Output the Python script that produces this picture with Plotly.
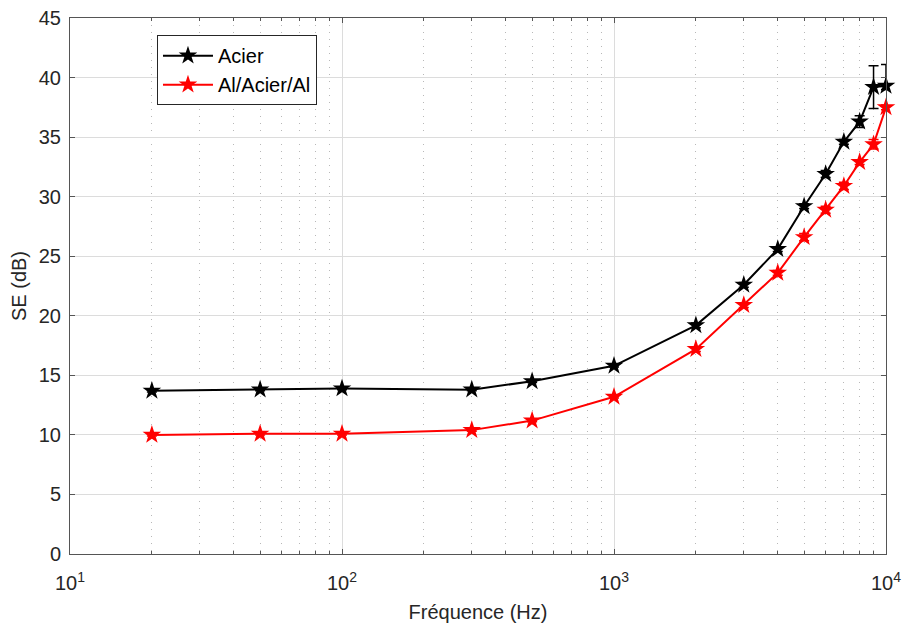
import plotly.graph_objects as go

freq = [20, 50, 100, 300, 500, 1000, 2000, 3000, 4000, 5000, 6000, 7000, 8000, 9000, 10000]
se_acier = [13.7, 13.8, 13.9, 13.8, 14.5, 15.8, 19.2, 22.6, 25.6, 29.2, 31.9, 34.6, 36.3, 39.2, 39.3]
err_acier_plus = [0.1, 0.1, 0.1, 0.1, 0.1, 0.1, 0.2, 0.2, 0.2, 0.2, 0.3, 0.2, 0.5, 1.8, 1.8]
err_acier_minus = [0.1, 0.1, 0.1, 0.1, 0.1, 0.1, 0.2, 0.2, 0.2, 0.2, 0.3, 0.2, 0.5, 1.8, 0.3]
se_al = [10.0, 10.1, 10.1, 10.4, 11.2, 13.2, 17.2, 20.9, 23.6, 26.6, 28.9, 30.9, 32.9, 34.4, 37.5]
err_al = [0.1, 0.1, 0.1, 0.1, 0.1, 0.1, 0.2, 0.2, 0.2, 0.3, 0.3, 0.3, 0.2, 0.4, 0.2]

xtick_vals = [10, 100, 1000, 10000]
xtick_text = ["10<sup>1</sup>", "10<sup>2</sup>", "10<sup>3</sup>", "10<sup>4</sup>"]
ytick_vals = [0, 5, 10, 15, 20, 25, 30, 35, 40, 45]

fig = go.Figure()
fig.add_trace(go.Scatter(
    x=freq, y=se_acier, mode="lines+markers", name="Acier",
    line=dict(color="black", width=2),
    marker=dict(symbol="star", size=14, color="black"),
    error_y=dict(type="data", array=err_acier_plus, arrayminus=err_acier_minus,
                 symmetric=False, color="black", thickness=1.5, width=5),
    cliponaxis=False,
))
fig.add_trace(go.Scatter(
    x=freq, y=se_al, mode="lines+markers", name="Al/Acier/Al",
    line=dict(color="red", width=2),
    marker=dict(symbol="star", size=14, color="red"),
    error_y=dict(type="data", array=err_al, color="red", thickness=1.5, width=5),
    cliponaxis=False,
))

FONT = "Liberation Sans, Arial, sans-serif"
axis_font = dict(family=FONT, size=20, color="#262626")
fig.update_layout(
    width=903, height=626,
    paper_bgcolor="white", plot_bgcolor="white",
    margin=dict(l=70, r=17, t=18, b=72, autoexpand=False),
    font=dict(family=FONT, size=20, color="#262626"),
    showlegend=True,
    legend=dict(x=0.1066, y=0.968, xanchor="left", yanchor="top",
                bgcolor="white", bordercolor="#262626", borderwidth=1,
                font=dict(size=20, color="black"), itemwidth=50,
                tracegroupgap=0),
)
fig.update_xaxes(
    type="log", range=[1, 4], automargin=False,
    tickvals=xtick_vals, ticktext=xtick_text,
    showgrid=True, gridcolor="#dcdcdc", gridwidth=1,
    showline=True, linecolor="#555555", linewidth=1, mirror="ticks",
    ticks="inside", ticklen=5, tickcolor="#555555",
    tickfont=axis_font, ticklabelstandoff=11, ticklabeloverflow="allow",
    minor=dict(dtick="D1", showgrid=True, gridcolor="#b8b8b8", griddash="1px,6px",
               ticks="inside", ticklen=3, tickcolor="#555555"),
    title=dict(text="Fréquence (Hz)", font=dict(size=20, color="#262626"), standoff=11),
    zeroline=False,
)
fig.update_yaxes(
    range=[0, 45], automargin=False, tickvals=ytick_vals,
    showgrid=True, gridcolor="#dcdcdc", gridwidth=1,
    showline=True, linecolor="#555555", linewidth=1, mirror="ticks",
    ticks="inside", ticklen=5, tickcolor="#555555",
    tickfont=axis_font, ticklabelstandoff=4,
    title=dict(text="SE (dB)", font=dict(size=20, color="#262626"), standoff=6),
    zeroline=False,
)
fig.write_html("out.html", config={"displayModeBar": False},
               post_script="document.body.style.margin='0px';")
